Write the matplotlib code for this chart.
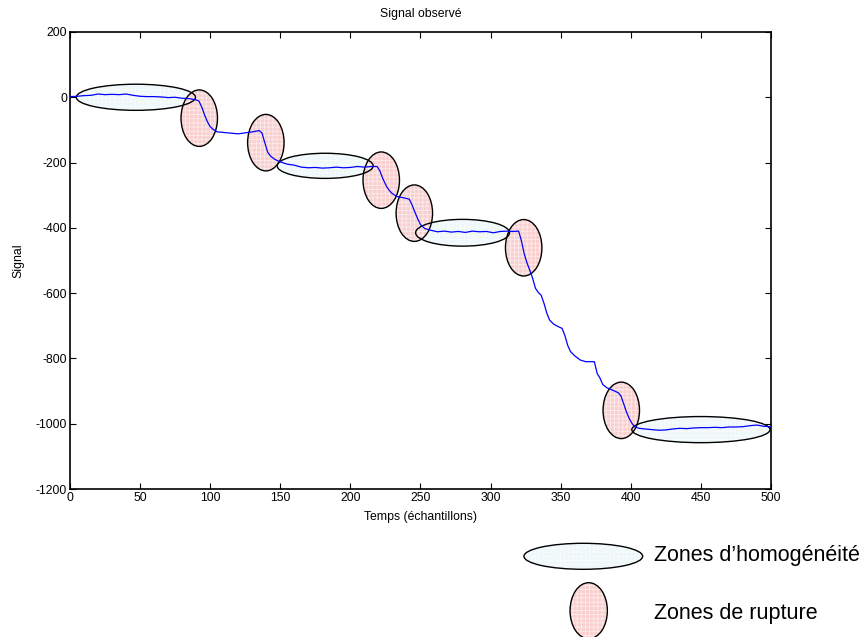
import matplotlib
matplotlib.use("Agg")
import matplotlib.pyplot as plt
from matplotlib.patches import Ellipse

plt.rcParams['font.family'] = ['Liberation Sans', 'DejaVu Sans']
plt.rcParams['axes.unicode_minus'] = False
plt.rcParams['hatch.linewidth'] = 0.6

# signal (sample index, value)
t = [0, 5, 10, 15, 20, 25, 30, 35, 40, 45, 50, 55, 60, 65, 70, 75, 80, 85, 90,
     92, 94, 96, 98, 100, 102, 105, 110, 115, 120, 125, 130, 135, 137, 139, 141,
     143, 146, 150, 155, 160, 165, 170, 175, 180, 185, 190, 195, 200, 205, 210,
     215, 219, 221, 223, 226, 229, 233, 238, 242, 244, 246, 248, 250, 253, 257,
     262, 267, 272, 277, 282, 287, 292, 297, 302, 307, 312, 316, 320, 322, 324,
     326, 328, 330, 332, 334, 336, 338, 340, 342, 345, 348, 351, 353, 355, 357,
     360, 364, 368, 372, 374, 376, 378, 380, 383, 387, 391, 393, 395, 397, 399,
     401, 403, 406, 410, 415, 420, 425, 430, 435, 440, 445, 450, 455, 460, 465,
     470, 475, 480, 485, 490, 495, 500]
signal = [2, 3, 5, 6, 10, 8, 9, 8, 10, 6, 3, 2, 2, 1, -1, 0, -3, -4, -8,
          -12, -30, -54, -75, -90, -98, -106, -108, -110, -112, -109, -106, -102, -110, -140, -168,
          -180, -190, -198, -205, -208, -214, -216, -215, -217, -216, -214, -216, -215, -212, -214,
          -212, -212, -225, -248, -275, -292, -304, -308, -312, -330, -352, -372, -390, -402, -407,
          -412, -410, -413, -411, -414, -410, -412, -411, -415, -411, -410, -411, -410, -440, -480,
          -508, -530, -555, -585, -598, -606, -630, -660, -682, -695, -702, -708, -730, -760, -779,
          -792, -805, -810, -810, -810, -846, -860, -880, -890, -897, -905, -915, -940, -965, -985,
          -1000, -1010, -1014, -1016, -1018, -1020, -1019, -1016, -1014, -1015, -1013, -1012, -1012, -1011, -1012,
          -1010, -1010, -1009, -1006, -1004, -1008, -1009]

# zones: centre (t, value), width in samples, height in signal units
homog_x = [47, 182, 280, 450]
homog_y = [0, -210, -415, -1018]
homog_w = [85, 68.5, 67, 98.6]
homog_h = [80, 77, 82, 80]

rupt_x = [92.2, 139.7, 222, 245.6, 323.6, 393.2]
rupt_y = [-64, -139, -254, -355, -461, -959]
rupt_w = 26
rupt_h = 173

homog_color = '#eef7f9'
rupt_color = '#f9cfcf'

fig = plt.figure(figsize=(8.63, 6.37), dpi=100)
ax = fig.add_axes([0.0811, 0.2323, 0.8123, 0.7175])


def zone(target, xy, w, h, color, transform=None, **kw):
    """Filled ellipse with a fine white grid texture and a black outline."""
    extra = {} if transform is None else {'transform': transform}
    fill = Ellipse(xy, w, h, facecolor=color, edgecolor='none', lw=0, zorder=2, **extra, **kw)
    tex = Ellipse(xy, w, h, facecolor='none', edgecolor='white', hatch='++++', lw=0,
                  alpha=0.6, zorder=2.1, **extra, **kw)
    edge = Ellipse(xy, w, h, facecolor='none', edgecolor='black', lw=1.0, zorder=3, **extra, **kw)
    for p in (fill, tex, edge):
        if target is ax:
            ax.add_patch(p)
        else:
            target.add_artist(p)


for x, y, w, h in zip(homog_x, homog_y, homog_w, homog_h):
    zone(ax, (x, y), w, h, homog_color, clip_on=False)
for x, y in zip(rupt_x, rupt_y):
    zone(ax, (x, y), rupt_w, rupt_h, rupt_color, clip_on=False)

ax.plot(t, signal, color='#0000ff', lw=0.9, zorder=4)

ax.set_xlim(0, 500)
ax.set_ylim(-1200, 200)
ax.set_xticks(range(0, 501, 50))
ax.set_yticks(range(-1200, 201, 200))
ax.tick_params(direction='in', length=4, width=0.8, top=True, right=True, labelsize=8.8, pad=2)
for s in ax.spines.values():
    s.set_linewidth(1.2)
ax.set_title('Signal observé', fontsize=8.8, pad=11)
ax.set_xlabel('Temps (échantillons)', fontsize=8.8, labelpad=5)
ax.set_ylabel('Signal', fontsize=8.8, labelpad=8)

# legend drawn below the plot, in figure coordinates
W, H = 863.0, 637.0
zone(fig, (583.3 / W, 1 - 556.3 / H), 118.7 / W, 26 / H, homog_color, transform=fig.transFigure)
zone(fig, (588.7 / W, 1 - 610.7 / H), 37.3 / W, 56 / H, rupt_color, transform=fig.transFigure)
fig.text(654 / W, 1 - 555 / H, 'Zones d\u2019homogénéité', fontsize=15.5, va='center', ha='left')
fig.text(654 / W, 1 - 613 / H, 'Zones de rupture', fontsize=15.5, va='center', ha='left')

fig.savefig('out.png', dpi=100)
